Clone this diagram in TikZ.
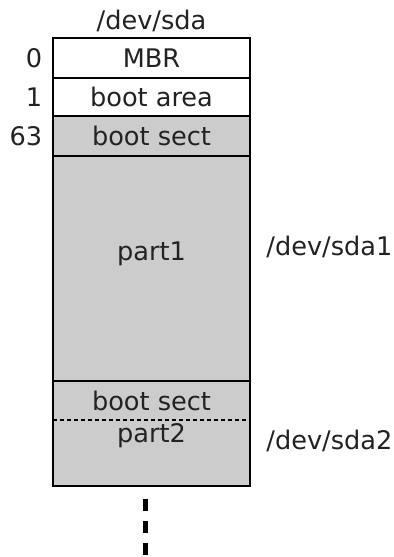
\documentclass[tikz,border=0pt]{standalone}
\usepackage{fontspec}
\setmainfont{DejaVu Sans}
\usetikzlibrary{positioning}
\definecolor{segfill}{HTML}{CCCCCC}
\definecolor{txt}{HTML}{222222}
\begin{document}
\begin{tikzpicture}[x=0.5pt, y=-0.5pt,
    font=\fontsize{12.8}{15}\selectfont, text=txt,
    seg/.style={rectangle, inner sep=0pt, outer sep=0pt, minimum width=98.5pt},
    num/.style={inner sep=0pt, anchor=east},
    dev/.style={inner sep=0pt, anchor=west}]
			\useasboundingbox (0,0) rectangle (393,557);
			\node[seg, fill=white, minimum height=20pt, anchor=north west] (mbr) at (53,38) {MBR};
			\node[seg, fill=white, minimum height=19pt, below=0pt of mbr] (bootarea) {boot area};
			\node[seg, fill=segfill, minimum height=20pt, below=0pt of bootarea] (bootsect) {boot sect};
			\node[seg, fill=segfill, minimum height=112.5pt, below=0pt of bootsect] (partone) {};
			\node[seg, fill=segfill, minimum height=19.5pt, below=0pt of partone] (bootsecttwo) {boot sect};
			\node[seg, fill=segfill, minimum height=33pt, below=0pt of bootsecttwo] (parttwo) {};

			% texts inside the partitions
			\node[yshift=-49pt] (partonetext) at (partone.north) {part1};
			\node[yshift=-7.9pt] (parttwotext) at (parttwo.north) {part2};

			% separators
			\draw[line width=0.75pt] (mbr.south west) -- (mbr.south east);
			\draw[line width=0.75pt] (bootarea.south west) -- (bootarea.south east);
			\draw[line width=0.75pt] (bootsect.south west) -- (bootsect.south east);
			\draw[line width=0.75pt] (partone.south west) -- (partone.south east);
			\draw[line width=0.9pt, dash pattern=on 2pt off 1.5pt] (bootsecttwo.south west) -- (bootsecttwo.south east);
			\draw[line width=1pt] (mbr.north west) rectangle (parttwo.south east);

			% sector numbers and device names
			\node (disk) at ([yshift=8.75pt]mbr.north) {/dev/sda};
			\node[num] (nzero) at ([xshift=-5.25pt]mbr.west) {0};
			\node[num] (none) at ([xshift=-5.25pt]bootarea.west) {1};
			\node[num] (nsixtythree) at ([xshift=-5.25pt]bootsect.west) {63};
			\node[dev] (sdaone) at ([xshift=8pt, yshift=-45.5pt]partone.north east) {/dev/sda1};
			\node[dev] (sdatwo) at ([xshift=8pt, yshift=-10.5pt]parttwo.north east) {/dev/sda2};

			% the disk goes on
			\coordinate[below=6.5pt of parttwo.south, xshift=-3pt] (moretop);
			\coordinate[below=29pt of moretop] (morebottom);
			\draw[line width=2.5pt, dash pattern=on 6pt off 5pt] (moretop) -- (morebottom);
		\end{tikzpicture}
\end{document}
